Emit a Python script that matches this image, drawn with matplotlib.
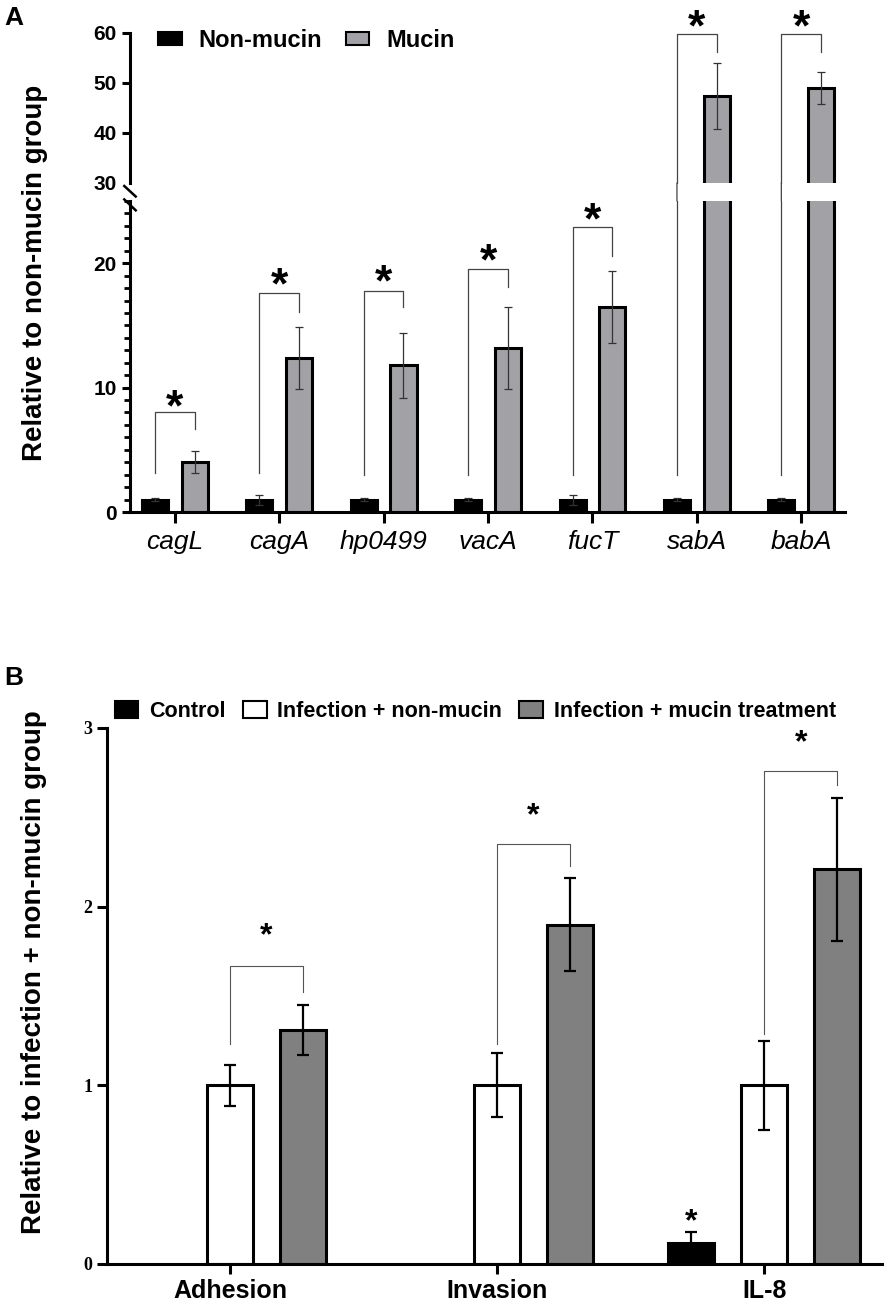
import numpy as np
import matplotlib
matplotlib.use("Agg")
import matplotlib.pyplot as plt
from matplotlib import font_manager
from matplotlib.patches import Patch, ConnectionPatch

# panel A data
genes = ['cagL', 'cagA', 'hp0499', 'vacA', 'fucT', 'sabA', 'babA']
non_mucin = [1.0, 1.0, 1.0, 1.0, 1.0, 1.0, 1.0]
non_mucin_err = [0.12, 0.4, 0.15, 0.15, 0.4, 0.1, 0.1]
mucin = [4.0, 12.4, 11.8, 13.2, 16.5, 47.5, 49.0]
mucin_err = [0.9, 2.5, 2.6, 3.3, 2.9, 6.6, 3.2]
a_brk_top = [8.0, 17.6, 17.8, 19.5, 22.9, 59.8, 59.8]
a_brk_left = [3.1, 3.1, 3.0, 3.0, 3.0, 3.0, 3.0]
a_brk_right = [6.7, 16.1, 16.5, 18.1, 20.6, 56.2, 56.2]
a_star = [9.4, 19.2, 19.4, 21.1, 24.4, 63.6, 63.6]

# panel B data
assays = ['Adhesion', 'Invasion', 'IL-8']
control = [np.nan, np.nan, 0.12]
control_err = [np.nan, np.nan, 0.06]
inf_non = [1.0, 1.0, 1.0]
inf_non_err = [0.115, 0.18, 0.25]
inf_muc = [1.31, 1.90, 2.21]
inf_muc_err = [0.14, 0.26, 0.40]
b_brk_top = [1.67, 2.35, 2.76]
b_brk_left = [1.23, 1.23, 1.29]
b_brk_right = [1.52, 2.23, 2.68]
b_star = [1.89, 2.56, 2.97]
control_star = [np.nan, np.nan, 0.29]

names = {f.name for f in font_manager.fontManager.ttflist}
SANS = 'Liberation Sans' if 'Liberation Sans' in names else 'DejaVu Sans'
SERIF = 'Liberation Serif' if 'Liberation Serif' in names else 'DejaVu Serif'
plt.rcParams['font.family'] = [SANS, 'DejaVu Sans']

W, H = 886, 1309
fig = plt.figure(figsize=(W / 100, H / 100), dpi=100)

def fr(x0, y0, x1, y1):
    # pixel box -> figure fraction rect
    return [x0 / W, 1 - y1 / H, (x1 - x0) / W, (y1 - y0) / H]

GREY_A = '#a2a2a6'
x = np.arange(len(genes))
off, bw = 0.19, 0.25

ax_hi = fig.add_axes(fr(130, 33, 845, 183))
ax_lo = fig.add_axes(fr(130, 201, 845, 512))

for ax in (ax_hi, ax_lo):
    ax.bar(x - off, non_mucin, bw, color='black', edgecolor='black', linewidth=2.2, zorder=2)
    ax.bar(x + off, mucin, bw, color=GREY_A, edgecolor='black', linewidth=2.2, zorder=2)
    ax.errorbar(x - off, non_mucin, yerr=non_mucin_err, fmt='none', ecolor='#333333',
                elinewidth=0.9, capsize=3, capthick=0.9, zorder=3)
    ax.errorbar(x + off, mucin, yerr=mucin_err, fmt='none', ecolor='#333333',
                elinewidth=0.9, capsize=3, capthick=0.9, zorder=3)
    ax.set_xlim(-0.43, 6.42)
    for s in ('top', 'right'):
        ax.spines[s].set_visible(False)
    ax.spines['left'].set_linewidth(2.2)
    ax.spines['bottom'].set_linewidth(2.2)
    ax.tick_params(axis='y', width=2.2, length=6)

ax_hi.set_ylim(30, 60)
ax_hi.set_yticks([30, 40, 50, 60])
ax_hi.set_yticklabels(['30', '40', '50', '60'], fontweight='bold', fontsize=15)
ax_hi.yaxis.get_major_ticks()[0].tick1line.set_visible(False)
ax_hi.spines['bottom'].set_visible(False)
ax_hi.set_xticks([])

ax_lo.set_ylim(0, 25)
ax_lo.set_yticks([0, 10, 20])
ax_lo.set_yticklabels(['0', '10', '20'], fontweight='bold', fontsize=15)
ax_lo.set_yticks(np.arange(0, 26, 1), minor=True)
ax_lo.tick_params(axis='y', which='minor', width=2.0, length=4)
ax_lo.set_xticks(x)
ax_lo.set_xticklabels(genes, fontstyle='italic', fontsize=19)
ax_lo.tick_params(axis='x', width=2.2, length=8, pad=5)

# break marks on the y axis
kw = dict(color='black', lw=1.8, clip_on=False)
ax_hi.plot([-0.008, 0.008], [-0.02, -0.09], transform=ax_hi.transAxes, **kw)
ax_lo.plot([-0.008, 0.008], [1.005, 0.97], transform=ax_lo.transAxes, **kw)

# brackets, panel A
for i in range(len(genes)):
    xl, xr = i - off, i + off
    if a_brk_top[i] > 30:
        ax_hi.plot([xl, xl, xr, xr], [30, a_brk_top[i], a_brk_top[i], a_brk_right[i]],
                   color='#444444', lw=0.9, clip_on=False)
        con = ConnectionPatch(xyA=(xl, 30), coordsA=ax_hi.transData,
                              xyB=(xl, 25), coordsB=ax_lo.transData,
                              color='#444444', lw=0.9)
        fig.add_artist(con)
        ax_lo.plot([xl, xl], [a_brk_left[i], 25], color='#444444', lw=0.9)
        tax = ax_hi
    else:
        ax_lo.plot([xl, xl, xr, xr], [a_brk_left[i], a_brk_top[i], a_brk_top[i], a_brk_right[i]],
                   color='#444444', lw=0.9)
        tax = ax_lo
    tax.annotate('*', xy=(i, a_star[i]), xytext=(0, -18), textcoords='offset points',
                 ha='center', va='baseline', fontsize=32, fontweight='bold',
                 annotation_clip=False)

ax_lo.set_ylabel('Relative to non-mucin group', fontsize=20, fontweight='bold')
ax_lo.yaxis.set_label_coords(-0.115, 0.77)

ax_hi.legend(handles=[Patch(facecolor='black', edgecolor='black', lw=1.5, label='Non-mucin'),
                      Patch(facecolor=GREY_A, edgecolor='black', lw=1.5, label='Mucin')],
             loc='upper left', bbox_to_anchor=(0.01, 1.17), ncol=2, frameon=False,
             prop={'weight': 'bold', 'size': 17}, handlelength=1.0, handleheight=0.5,
             columnspacing=1.0, handletextpad=0.7)

fig.text(4 / W, 1 - 6 / H, 'A', fontsize=19, fontweight='bold', va='top')

# panel B
axb = fig.add_axes(fr(107, 728, 882, 1264))
xb = np.arange(len(assays))
offb, bwb = 0.273, 0.172
GREY_B = '#808080'
axb.bar(xb - offb, control, bwb, color='black', edgecolor='black', linewidth=2.2, zorder=2)
axb.bar(xb, inf_non, bwb, color='white', edgecolor='black', linewidth=2.2, zorder=2)
axb.bar(xb + offb, inf_muc, bwb, color=GREY_B, edgecolor='black', linewidth=2.2, zorder=2)
ek = dict(fmt='none', ecolor='black', elinewidth=1.6, capsize=4.5, capthick=1.6, zorder=3)
axb.errorbar(xb - offb, control, yerr=control_err, **ek)
axb.errorbar(xb, inf_non, yerr=inf_non_err, **ek)
axb.errorbar(xb + offb, inf_muc, yerr=inf_muc_err, **ek)

for i in range(len(assays)):
    xl, xr = i, i + offb
    axb.plot([xl, xl, xr, xr], [b_brk_left[i], b_brk_top[i], b_brk_top[i], b_brk_right[i]],
             color='#555555', lw=0.8)
    axb.annotate('*', xy=(i + offb / 2, b_star[i]), xytext=(0, -13), textcoords='offset points',
                 ha='center', va='baseline', fontsize=23, fontweight='bold', annotation_clip=False)
    if not np.isnan(control_star[i]):
        axb.annotate('*', xy=(i - offb, control_star[i]), xytext=(0, -13),
                     textcoords='offset points', ha='center', va='baseline',
                     fontsize=23, fontweight='bold')

axb.set_xlim(-0.46, 2.44)
axb.set_ylim(0, 3)
axb.set_yticks([0, 1, 2, 3])
axb.set_yticklabels(['0', '1', '2', '3'], family=SERIF, fontweight='bold', fontsize=13)
axb.set_xticks(xb)
axb.set_xticklabels(assays, fontweight='bold', fontsize=18)
for s in ('top', 'right'):
    axb.spines[s].set_visible(False)
axb.spines['left'].set_linewidth(2.2)
axb.spines['bottom'].set_linewidth(2.2)
axb.tick_params(axis='both', width=2.2, length=7)
axb.tick_params(axis='x', pad=4)
axb.set_ylabel('Relative to infection + non-mucin group', fontsize=20, fontweight='bold')
axb.yaxis.set_label_coords(-0.078, 0.545)

axb.legend(handles=[Patch(facecolor='black', edgecolor='black', lw=1.5, label='Control'),
                    Patch(facecolor='white', edgecolor='black', lw=1.5, label='Infection + non-mucin'),
                    Patch(facecolor=GREY_B, edgecolor='black', lw=1.5, label='Infection + mucin treatment')],
           loc='lower left', bbox_to_anchor=(-0.015, 0.975), ncol=3, frameon=False,
           prop={'weight': 'bold', 'size': 15.5}, handlelength=1.1,
           handleheight=0.8, columnspacing=0.8, handletextpad=0.5)

fig.text(4 / W, 1 - 666 / H, 'B', fontsize=19, fontweight='bold', va='top')

fig.savefig('out.png', dpi=100)
